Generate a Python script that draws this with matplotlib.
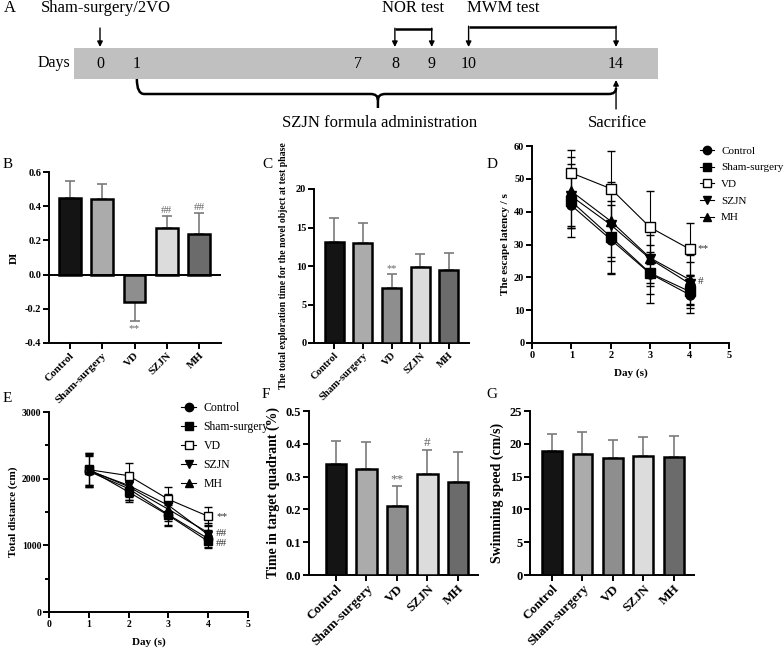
import matplotlib
matplotlib.use('Agg')
import matplotlib.pyplot as plt
import numpy as np
from matplotlib.lines import Line2D
from matplotlib.patches import Rectangle, PathPatch
from matplotlib.path import Path

plt.rcParams['font.family'] = ['Liberation Serif', 'DejaVu Serif']
plt.rcParams['axes.linewidth'] = 1.4

W, H = 784, 651

# ---- data ----
groups = ['Control', 'Sham-surgery', 'VD', 'SZJN', 'MH']
bar_colors = ['#141414', '#ababab', '#8e8e8e', '#dcdcdc', '#6b6b6b']

# B: discrimination index
di_mean = [0.45, 0.44, -0.16, 0.27, 0.24]
di_sd = [0.10, 0.09, 0.11, 0.07, 0.12]
di_marks = ['', '', '**', '##', '##']

# C: exploration time of novel object
explore_mean = [13.1, 13.0, 7.1, 9.9, 9.5]
explore_sd = [3.1, 2.6, 1.9, 1.6, 2.2]
explore_marks = ['', '', '**', '', '']

# D: escape latency, days 1-4
days = [1, 2, 3, 4]
lat_control = [41.9, 31.5, 21.1, 14.7]
lat_sham = [43.1, 32.3, 21.3, 15.7]
lat_vd = [51.8, 47.0, 35.2, 28.6]
lat_szjn = [44.7, 36.0, 25.6, 18.1]
lat_mh = [46.2, 37.1, 25.9, 19.3]
lat_control_sd = [9.5, 10.5, 8.9, 5.6]
lat_sham_sd = [8.1, 11.1, 6.5, 5.0]
lat_vd_sd = [7.0, 11.5, 11.0, 8.0]
lat_szjn_sd = [9.7, 9.8, 7.3, 6.5]
lat_mh_sd = [10.5, 12.0, 8.5, 7.5]

# E: total distance, days 1-4
dist_control = [2110, 1850, 1460, 1100]
dist_sham = [2140, 1800, 1450, 1060]
dist_vd = [2135, 2045, 1690, 1435]
dist_szjn = [2120, 1900, 1600, 1160]
dist_mh = [2130, 1880, 1540, 1190]
dist_control_sd = [240, 170, 160, 130]
dist_sham_sd = [250, 150, 160, 100]
dist_vd_sd = [230, 190, 190, 145]
dist_szjn_sd = [220, 180, 170, 140]
dist_mh_sd = [260, 200, 180, 150]

# F: time in target quadrant
quad_mean = [0.339, 0.324, 0.209, 0.308, 0.283]
quad_sd = [0.070, 0.081, 0.063, 0.074, 0.093]
quad_marks = ['', '', '**', '#', '']

# G: swimming speed
speed_mean = [18.9, 18.5, 17.8, 18.2, 18.0]
speed_sd = [2.6, 3.3, 2.8, 2.9, 3.2]

# A: timeline
tl_days = [0, 1, 7, 8, 9, 10, 14]
surgery_day = 0
nor_days = (8, 9)
mwm_days = (10, 14)
admin_days = (1, 14)
sacrifice_day = 14

markers = ['o', 's', 's', 'v', '^']
faces = ['black', 'black', 'white', 'black', 'black']


def px_axes(x0, y0, x1, y1):
    return fig.add_axes([x0 / W, 1 - y1 / H, (x1 - x0) / W, (y1 - y0) / H])


def style_axes(ax, tick_fs):
    ax.spines['top'].set_visible(False)
    ax.spines['right'].set_visible(False)
    ax.tick_params(direction='out', width=1.4, length=4, labelsize=tick_fs, pad=1.5)
    for lab in ax.get_xticklabels() + ax.get_yticklabels():
        lab.set_fontweight('bold')


def bar_panel(ax, means, sds, marks, xlim, ylim, yticks, width, tick_fs, cat_fs, mark_pad, fmt=None):
    x = np.arange(len(groups))
    ax.bar(x, means, width=width, color=bar_colors, edgecolor='black', linewidth=1.8, zorder=3)
    lower = [s if m < 0 else 0 for m, s in zip(means, sds)]
    upper = [0 if m < 0 else s for m, s in zip(means, sds)]
    ax.errorbar(x, means, yerr=[lower, upper], fmt='none', ecolor='#7a7a7a',
                elinewidth=1.2, capsize=3.5, capthick=1.2, zorder=2)
    for xi, m, s, mk in zip(x, means, sds, marks):
        if not mk:
            continue
        if m < 0:
            ax.text(xi, m - s - mark_pad, mk, ha='center', va='top', fontsize=cat_fs, color='#666666')
        else:
            ax.text(xi, m + s + mark_pad * 0.3, mk, ha='center', va='bottom', fontsize=cat_fs, color='#666666')
    ax.set_xlim(*xlim)
    ax.set_ylim(*ylim)
    ax.set_yticks(yticks)
    if fmt:
        ax.set_yticklabels([fmt % v for v in yticks])
    ax.set_xticks(x)
    ax.set_xticklabels(groups, rotation=45, ha='right', rotation_mode='anchor', fontsize=cat_fs)
    style_axes(ax, tick_fs)
    for lab in ax.get_xticklabels():
        lab.set_fontsize(cat_fs)


def line_panel(ax, series, ylim, yticks, tick_fs, ms):
    for (label, mk, fc, vals, sds) in series:
        ax.errorbar(days, vals, yerr=sds, marker=mk, mfc=fc, mec='black', mew=1.0,
                    color='black', lw=0.8, ms=ms, capsize=3, elinewidth=0.8, capthick=0.8)
    ax.set_xlim(0, 5)
    ax.set_ylim(*ylim)
    ax.set_xticks(range(6))
    ax.set_yticks(yticks)
    style_axes(ax, tick_fs)


fig = plt.figure(figsize=(W / 100, H / 100), dpi=100)

# ---- A: timeline ----
ax_t = fig.add_axes([0, 0, 1, 1], zorder=-1)
px_day = 36.86
ax_t.set_xlim(-100 / px_day, (W - 100) / px_day)
ax_t.set_ylim(H, 0)
ax_t.axis('off')
ax_t.add_patch(Rectangle((-26 / px_day, 48), 584 / px_day, 31, color='#c0c0c0', lw=0))
ax_t.text(-2.6, 8, 'A', fontsize=12, va='center')
ax_t.text(-1.6, 8, 'Sham-surgery/2VO', fontsize=12, va='center')
ax_t.text(sum(nor_days) / 2, 8, 'NOR test', fontsize=12, va='center', ha='center')
ax_t.text(10.95, 8, 'MWM test', fontsize=12, va='center', ha='center')
ax_t.text(-1.7, 63, 'Days', fontsize=11.5, va='center')
for d in tl_days:
    ax_t.text(d, 64, str(d), fontsize=11.5, va='center', ha='center')

arrow = dict(arrowstyle='-|>', color='black', lw=1.0, mutation_scale=8, shrinkA=0, shrinkB=0)
ax_t.annotate('', xy=(surgery_day, 47), xytext=(surgery_day, 28), arrowprops=arrow)
for (a, b), top in [(nor_days, 29), (mwm_days, 27)]:
    ax_t.plot([a, b], [top, top], color='black', lw=1.8, solid_capstyle='butt')
    for d in (a, b):
        ax_t.annotate('', xy=(d, 47), xytext=(d, top - 0.8), arrowprops=arrow)

s, e = admin_days
mid = 7.54
verts = [(s, 79), (s, 94), (s + 0.2, 94), (mid - 0.2, 94), (mid, 94), (mid, 100), (mid, 108),
         (mid, 100), (mid, 94), (mid + 0.2, 94), (e - 0.2, 94), (e, 94), (e, 88)]
codes = [Path.MOVETO, Path.CURVE3, Path.CURVE3, Path.LINETO, Path.CURVE3, Path.CURVE3, Path.LINETO,
         Path.MOVETO, Path.CURVE3, Path.CURVE3, Path.LINETO, Path.CURVE3, Path.CURVE3]
ax_t.add_patch(PathPatch(Path(verts, codes), fill=False, lw=1.8, color='black'))
ax_t.annotate('', xy=(sacrifice_day, 80), xytext=(sacrifice_day, 109), arrowprops=arrow)
ax_t.text(mid + 0.05, 123, 'SZJN formula administration', fontsize=12, va='center', ha='center')
ax_t.text(sacrifice_day + 0.05, 123, 'Sacrifice', fontsize=12, va='center', ha='center')

# panel letters
for letter, (px, py) in zip('BCDEFG', [(3, 165), (262, 165), (487, 165), (3, 398), (262, 395), (486, 395)]):
    fig.text(px / W, 1 - py / H, letter, fontsize=11, va='center')

# ---- B ----
axB = px_axes(49, 172, 221, 343)
bar_panel(axB, di_mean, di_sd, di_marks, (-0.65, 4.68), (-0.4, 0.6),
          [-0.4, -0.2, 0.0, 0.2, 0.4, 0.6], 0.68, 7.5, 8, 0.02, fmt='%.1f')
axB.axhline(0, color='black', lw=1.4, zorder=4)
axB.set_ylabel('DI', fontsize=8, fontweight='bold', labelpad=4)

# ---- C ----
axC = px_axes(314, 189, 469, 343)
bar_panel(axC, explore_mean, explore_sd, explore_marks, (-0.7, 4.7), (0, 20),
          [0, 5, 10, 15, 20], 0.66, 7.5, 7.5, 0.3)
axC.set_ylabel('The total exploration time for the novel object at test phase',
               fontsize=7, fontweight='bold', labelpad=6)

# ---- D ----
axD = px_axes(532, 146, 729, 343)
lat_series = [('Control', markers[0], faces[0], lat_control, lat_control_sd),
              ('Sham-surgery', markers[1], faces[1], lat_sham, lat_sham_sd),
              ('VD', markers[2], faces[2], lat_vd, lat_vd_sd),
              ('SZJN', markers[3], faces[3], lat_szjn, lat_szjn_sd),
              ('MH', markers[4], faces[4], lat_mh, lat_mh_sd)]
line_panel(axD, lat_series, (0, 60), range(0, 61, 10), 7.5, 6.5)
axD.text(4.2, lat_vd[-1], '**', fontsize=8, va='center', color='#333333')
axD.text(4.2, lat_mh[-1] - 0.6, '#', fontsize=8, va='center', color='#333333')
axD.set_xlabel('Day (s)', fontsize=8, fontweight='bold', labelpad=6)
axD.set_ylabel('The escape latency / s', fontsize=8, fontweight='bold', labelpad=3)


def make_legend(ax, x, y, fs, ms, spacing):
    handles = [Line2D([0], [0], color='black', lw=0.8, marker=m, mfc=f, mec='black', ms=ms)
               for m, f in zip(markers, faces)]
    ax.legend(handles, groups, loc='upper left', bbox_to_anchor=(x / W, 1 - y / H),
              bbox_transform=fig.transFigure, frameon=False, fontsize=fs, borderpad=0,
              borderaxespad=0, handlelength=1.3, handletextpad=0.6, labelspacing=spacing)


make_legend(axD, 700, 146, 8, 6, 0.62)

# ---- E ----
axE = px_axes(49, 412, 248, 612)
dist_series = [('Control', markers[0], faces[0], dist_control, dist_control_sd),
               ('Sham-surgery', markers[1], faces[1], dist_sham, dist_sham_sd),
               ('VD', markers[2], faces[2], dist_vd, dist_vd_sd),
               ('SZJN', markers[3], faces[3], dist_szjn, dist_szjn_sd),
               ('MH', markers[4], faces[4], dist_mh, dist_mh_sd)]
line_panel(axE, dist_series, (0, 3000), [0, 1000, 2000, 3000], 7, 6)
axE.set_yticks([500, 1500, 2500], minor=True)
axE.tick_params(which='minor', direction='out', width=1.4, length=3)
axE.text(4.2, dist_vd[-1], '**', fontsize=8, va='center', color='#333333')
axE.text(4.2, 1180, '##', fontsize=8, va='center', color='#333333')
axE.text(4.2, 1030, '##', fontsize=8, va='center', color='#333333')
axE.set_xlabel('Day (s)', fontsize=8, fontweight='bold', labelpad=6)
axE.set_ylabel('Total distance (cm)', fontsize=8, fontweight='bold', labelpad=3)
make_legend(axE, 181, 402, 8.5, 6, 0.6)

# ---- F ----
axF = px_axes(309, 411, 478, 575)
bar_panel(axF, quad_mean, quad_sd, quad_marks, (-0.885, 4.66), (0, 0.5),
          [0.0, 0.1, 0.2, 0.3, 0.4, 0.5], 0.68, 9, 9.5, 0.006, fmt='%.1f')
axF.set_ylabel('Time in target quadrant (%)', fontsize=10, fontweight='bold', labelpad=4)

# ---- G ----
axG = px_axes(530, 411, 694, 575)
bar_panel(axG, speed_mean, speed_sd, ['', '', '', '', ''], (-0.72, 4.66), (0, 25),
          [0, 5, 10, 15, 20, 25], 0.65, 9, 9.5, 0.3)
axG.set_ylabel('Swimming speed (cm/s)', fontsize=10, fontweight='bold', labelpad=4)

fig.savefig('out.png', dpi=100)
